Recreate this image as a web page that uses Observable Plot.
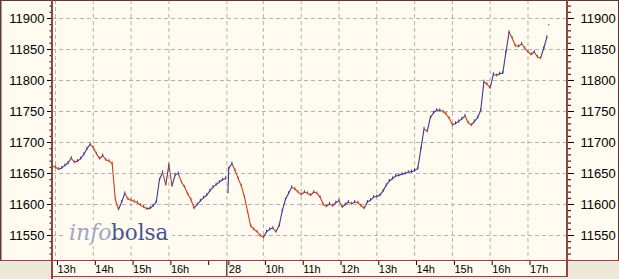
<!DOCTYPE html>
<html><head><meta charset="utf-8">
<script src="https://cdn.jsdelivr.net/npm/d3@7"></script>
<script src="https://cdn.jsdelivr.net/npm/@observablehq/plot@0.6"></script>
<style>
html,body{margin:0;padding:0;background:#ece9d8;}
#chart{width:619px;height:279px;}
#chart svg{display:block;}
</style></head><body><div id="chart"></div>
<script>
// ---- data (5-minute closes) ----
const day1Start = "12:55";
const day1Open = 11662;
const day1Close = [11662,11660,11657,11659,11663,11667,11675,11668,11670,11674,
  11681,11690,11697,11692,11682,11674,11679,11672,11670,11666,
  11608,11592,11604,11618,11609,11607,11605,11603,11599,11596,
  11593,11594,11598,11604,11640,11652,11632,11664,11630,11648,
  11650,11636,11628,11617,11608,11594,11600,11606,11611,11615,
  11622,11628,11632,11636,11640,11642];
const day2Start = "09:05";
const day2Open = 11618;
const day2Close = [11658,11666,11655,11642,11630,11612,11588,11565,11560,11556,
  11550,11547,11556,11560,11562,11556,11566,11590,11608,11618,
  11628,11625,11620,11616,11620,11618,11615,11620,11618,11612,
  11600,11597,11601,11598,11603,11606,11596,11600,11604,11601,
  11604,11603,11598,11594,11604,11607,11612,11613,11615,11622,
  11631,11638,11642,11646,11647,11649,11650,11652,11653,11655,
  11658,11690,11722,11718,11740,11748,11752,11752,11750,11746,
  11739,11728,11731,11734,11738,11743,11732,11728,11734,11740,
  11752,11798,11794,11788,11810,11808,11811,11812,11846,11878,
  11868,11856,11855,11859,11852,11846,11842,11846,11838,11836,
  11852,11870];
const closingTime = "17:32";
const closingValue = 11890;

const tickDay   = [1,1,1,1,1,2,2,2,2,2,2,2,2,2];
const tickTime  = ["13:00","14:00","15:00","16:00","17:00","09:02","10:00","11:00","12:00","13:00","14:00","15:00","16:00","17:00"];
const tickLabel = ["13h","14h","15h","16h","","28","10h","11h","12h","13h","14h","15h","16h","17h"];
const yMajor = [11550,11600,11650,11700,11750,11800,11850,11900];
const yMinor = d3.range(11510, 11930, 10);

// ---- helpers ----
const hrs = s => { const [h,m] = s.split(":").map(Number); return h + m/60; };
const toU = (day, s) => day === 1 ? hrs(s) - 13 : hrs(s) - 9 + 4.5;
const STEP = 5/60;
function buildBars(day, start, open0, closes) {
  const u0 = toU(day, start);
  return closes.map((c, i) => ({
    prevU: i === 0 ? u0 - 0.02 : u0 + (i-1)*STEP, u: u0 + i*STEP,
    open: i === 0 ? open0 : closes[i-1], close: c
  }));
}
const bars = [...buildBars(1, day1Start, day1Open, day1Close), ...buildBars(2, day2Start, day2Open, day2Close)];
const BLUE = "#3c3c8c", RED = "#c0461e";
bars.forEach(b => b.color = b.close >= b.open ? BLUE : RED);

const ticks = tickTime.map((t,i) => ({u: toU(tickDay[i], t), label: tickLabel[i]}));
const labelOf = new Map(ticks.map(t => [t.u, t.label]));
const gridU = ticks.filter(t => t.label !== "").map(t => t.u);
const sepU = ticks.find(t => t.label === "28").u;
const closeU = toU(2, closingTime);

const font = "'Liberation Sans', Arial, sans-serif";
const chart = Plot.plot({
  width: 619, height: 279,
  marginLeft: 52, marginRight: 52, marginTop: 0, marginBottom: 19,
  style: {background: "transparent", fontFamily: font, color: "#000", overflow: "visible"},
  x: {domain: [-0.079, 13.545], label: null},
  y: {domain: [11509.7, 11929], label: null},
  marks: [
    Plot.gridY(yMajor, {stroke: "#b4b4b4", strokeOpacity: 1, strokeDasharray: "4,3"}),
    Plot.gridX(gridU, {stroke: "#b4b4b4", strokeOpacity: 1, strokeDasharray: "4,3"}),
    Plot.link(bars, {x1: "prevU", x2: "u", y1: "open", y2: "close", stroke: "color", strokeWidth: 1.1}),
    Plot.ruleX(bars, {x: "u", y1: "close", y2: "close", stroke: "color", strokeWidth: 1, insetTop: -1.5, insetBottom: -1.5}),
    Plot.link([{x1: closeU, x2: closeU + 0.03, y: closingValue}], {x1: "x1", x2: "x2", y1: "y", y2: "y", stroke: "#555", strokeWidth: 1.2}),
    Plot.axisY({ticks: yMinor, anchor: "left", tickSize: 2.5, tickFormat: () => "", stroke: "#000"}),
    Plot.axisY({ticks: yMajor, anchor: "left", tickSize: 5, tickPadding: 3, fontSize: 13, tickFormat: d => String(d), stroke: "#000"}),
    Plot.axisY({ticks: yMinor, anchor: "right", tickSize: 3, tickFormat: () => "", stroke: "#000"}),
    Plot.axisY({ticks: yMajor, anchor: "right", tickSize: 6, tickPadding: 7, fontSize: 13, tickFormat: d => String(d), stroke: "#000"}),
    Plot.axisX({ticks: ticks.map(t => t.u), anchor: "bottom", tickSize: 5, tickPadding: 0, fontSize: 11, textAnchor: "start", dx: 2, tickFormat: d => labelOf.get(d), stroke: "#000"}),
    Plot.axisX({ticks: [sepU], anchor: "bottom", tickSize: 17, tickFormat: () => "", stroke: "#000"})
  ]
});
document.getElementById("chart").appendChild(chart);

// ---- panel backgrounds, frame lines and watermark ----
const svg = d3.select(chart);
const bg = svg.insert("g", ":first-child");
bg.append("rect").attr("x", 0).attr("y", 0).attr("width", 619).attr("height", 260).attr("fill", "#fffbf0");
bg.append("rect").attr("x", 52).attr("y", 260).attr("width", 515).attr("height", 17).attr("fill", "#fffbf0");

// watermark sits above the grid, below the price line
const firstData = svg.select('g[aria-label="link"]').node();
const wm = svg.insert("g", () => firstData).attr("text-anchor", "start");
wm.append("rect").attr("x", 66).attr("y", 220).attr("width", 106).attr("height", 26).attr("fill", "#fffbf0");
wm.append("text").attr("x", 69).attr("y", 240).attr("text-anchor", "start").attr("font-family", "'DejaVu Serif', serif").attr("font-size", 22)
  .attr("font-style", "italic").attr("fill", "#9ea6c6").text("info");
wm.append("text").attr("x", 111).attr("y", 240).attr("text-anchor", "start").attr("font-family", "'DejaVu Serif', serif").attr("font-size", 21.5)
  .attr("fill", "#48548f").text("bolsa");

const fg = svg.append("g").attr("fill", "none");
const line = (x1, y1, x2, y2, c, w) => fg.append("line").attr("x1", x1).attr("y1", y1).attr("x2", x2).attr("y2", y2).attr("stroke", c).attr("stroke-width", w);
const M = "#8b4646";
line(0, 0.5, 619, 0.5, "#5a3a3a", 1);
line(0.75, 0, 0.75, 260, "#5a3a3a", 1.5);
line(618.5, 0, 618.5, 260, "#5a3a3a", 1);
line(0, 260.5, 619, 260.5, M, 1.2);
line(52, 0, 52, 279, M, 2);
line(567, 0, 567, 277, M, 2);
line(52, 276.5, 568, 276.5, M, 1.2);
</script></body></html>
